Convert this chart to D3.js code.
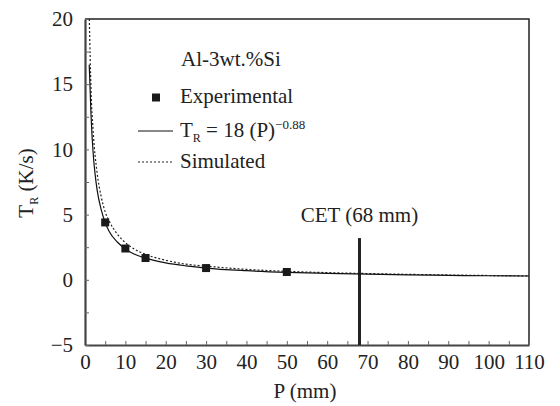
<!DOCTYPE html>
<html>
<head>
<meta charset="utf-8">
<title>Cooling rate vs position</title>
<script src="https://d3js.org/d3.v7.min.js"></script>
<style>
  body { margin: 0; background: #fff; }
</style>
</head>
<body>
<div id="chart"></div>
<script>
// experimental points (P in mm, T_R in K/s)
var expP = [5, 10, 15, 30, 50];
var expT = [4.4, 2.4, 1.67, 0.9, 0.6];

// fitted curve T_R = 18 (P)^-0.88
var fitP = [1.05, 1.2, 1.5, 2, 2.5, 3, 4, 5, 6, 8, 10, 12, 15, 20, 25, 30, 40, 50, 60, 70, 80, 90, 100, 110];
var fitT = [16.5, 15.2, 12.6, 9.8, 8.1, 6.9, 5.4, 4.4, 3.7, 2.9, 2.37, 2.0, 1.66, 1.3, 1.07, 0.9, 0.7, 0.57, 0.49, 0.43, 0.38, 0.34, 0.31, 0.29];

// simulated curve (dotted)
var simP = [1.07, 1.5, 2, 3, 4, 5, 6, 8, 10, 12, 15, 20, 25, 30, 40, 50, 60, 70, 80, 90, 100, 110];
var simT = [20, 14.5, 11.5, 8.2, 6.4, 5.2, 4.5, 3.5, 2.85, 2.4, 1.95, 1.5, 1.2, 1.05, 0.8, 0.65, 0.55, 0.48, 0.42, 0.37, 0.33, 0.3];

var xTicks = d3.range(0, 111, 5);
var yTicks = d3.range(-5, 20.01, 2.5);
var cetP = 68, cetTop = 3.2;

var fs = 21;

var margin = {top: 19, right: 31, bottom: 61, left: 85},
    width = 560 - margin.left - margin.right,
    height = 406 - margin.top - margin.bottom;

var svg = d3.select("#chart").append("svg")
    .attr("width", 560).attr("height", 406);
var g = svg.append("g")
    .attr("transform", `translate(${margin.left}, ${margin.top})`);

var x = d3.scaleLinear().domain([0, 110]).range([0, width]);
var y = d3.scaleLinear().domain([-5, 20]).range([height, 0]);

// frame (top and right)
g.append("path")
  .attr("d", `M0,0H${width}V${height}`)
  .attr("fill", "none").attr("stroke", "#222").attr("stroke-width", 1.5);

// axes
var xAxis = g.append("g")
  .attr("transform", `translate(0, ${height})`)
  .call(d3.axisBottom(x).tickValues(xTicks)
    .tickFormat(function (d) { return d % 10 === 0 ? d : ""; })
    .tickSizeInner(-4).tickSizeOuter(0).tickPadding(9));
var yAxis = g.append("g")
  .call(d3.axisLeft(y).tickValues(yTicks)
    .tickFormat(function (d) { return d % 5 === 0 ? d3.format("d")(d) : ""; })
    .tickSizeInner(-4).tickSizeOuter(0).tickPadding(12));
[xAxis, yAxis].forEach(function (a) {
  a.attr("font-size", fs);
  a.select(".domain").attr("stroke", "#444").attr("stroke-width", 2.2);
  a.selectAll(".tick line").attr("stroke", "#666").attr("stroke-width", 1);
  a.selectAll("text").attr("fill", "#222");
});
xAxis.selectAll("text").attr("dy", "0.71em");

// CET line
g.append("line")
  .attr("x1", x(cetP)).attr("x2", x(cetP))
  .attr("y1", y(cetTop)).attr("y2", height)
  .attr("stroke", "#222").attr("stroke-width", 3);
g.append("text")
  .attr("x", x(cetP)).attr("y", y(cetTop) - 16)
  .attr("text-anchor", "middle").attr("font-size", fs).attr("fill", "#222")
  .text("CET (68 mm)");

// curves
var line = d3.line().x(function (d) { return x(d[0]); }).y(function (d) { return y(d[1]); })
  .curve(d3.curveMonotoneX);
g.append("path")
  .datum(d3.zip(simP, simT))
  .attr("d", line).attr("fill", "none")
  .attr("stroke", "#222").attr("stroke-width", 1.2).attr("stroke-dasharray", "2,2");
g.append("path")
  .datum(d3.zip(fitP, fitT))
  .attr("d", line).attr("fill", "none")
  .attr("stroke", "#111").attr("stroke-width", 1.2);

// experimental squares
var sq = 8;
g.selectAll("rect.pt")
  .data(d3.zip(expP, expT))
  .enter().append("rect")
    .attr("class", "pt")
    .attr("x", function (d) { return x(d[0]) - sq / 2; })
    .attr("y", function (d) { return y(d[1]) - sq / 2; })
    .attr("width", sq).attr("height", sq)
    .attr("fill", "#1a1a1a");

// axis titles
svg.append("text")
  .attr("x", margin.left + width / 2 - 2).attr("y", 398)
  .attr("text-anchor", "middle").attr("font-size", fs).attr("fill", "#222")
  .text("P (mm)");
var yt = svg.append("text")
  .attr("transform", "translate(33, 183) rotate(-90)")
  .attr("text-anchor", "middle").attr("font-size", fs).attr("fill", "#222");
yt.append("tspan").text("T");
yt.append("tspan").attr("font-size", 12).attr("dy", 5).text("R");
yt.append("tspan").attr("dy", -5).text(" (K/s)");

// legend
var lg = svg.append("g").attr("font-size", fs).attr("fill", "#222");
lg.append("text").attr("x", 181).attr("y", 66).text("Al-3wt.%Si");
lg.append("rect").attr("x", 152).attr("y", 93.5).attr("width", 8).attr("height", 8).attr("fill", "#1a1a1a");
lg.append("text").attr("x", 180).attr("y", 103).text("Experimental");
lg.append("line").attr("x1", 138).attr("x2", 173).attr("y1", 131).attr("y2", 131)
  .attr("stroke", "#111").attr("stroke-width", 1.2);
var ft = lg.append("text").attr("x", 180).attr("y", 137);
ft.append("tspan").text("T");
ft.append("tspan").attr("font-size", 12).attr("dy", 5).text("R");
ft.append("tspan").attr("dy", -5).text(" = 18 (P)");
ft.append("tspan").attr("font-size", 13).attr("dy", -8).text("\u22120.88");
lg.append("line").attr("x1", 138).attr("x2", 173).attr("y1", 162).attr("y2", 162)
  .attr("stroke", "#222").attr("stroke-width", 1.2).attr("stroke-dasharray", "2,2");
lg.append("text").attr("x", 180).attr("y", 168).text("Simulated");

// serif face on every label
svg.selectAll("text").attr("font-family", "Liberation Serif");
</script>
</body>
</html>
